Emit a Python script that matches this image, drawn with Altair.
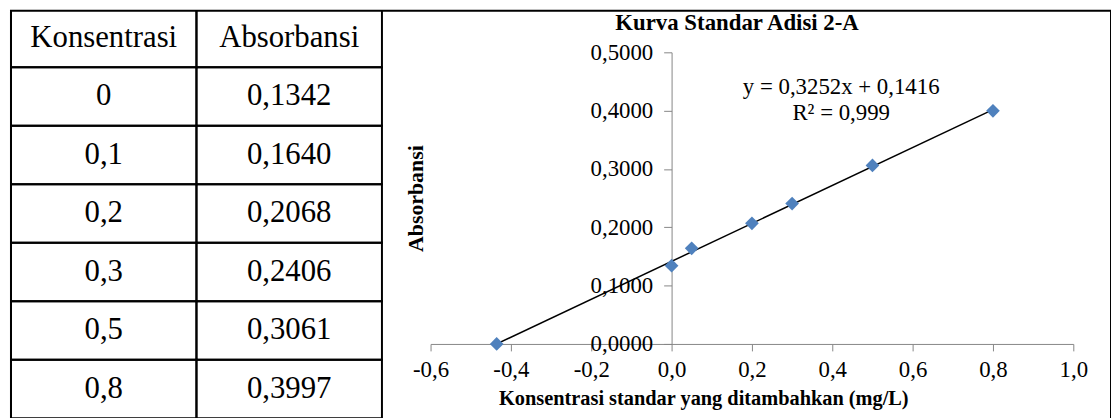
import altair as alt
import pandas as pd

SERIF = "Liberation Serif"

# ---------------- data ----------------
header = ["Konsentrasi", "Absorbansi"]
konsentrasi = [0, 0.1, 0.2, 0.3, 0.5, 0.8]
absorbansi = [0.1342, 0.1640, 0.2068, 0.2406, 0.3061, 0.3997]

plot_x = [-0.4354, 0.0, 0.05, 0.2, 0.3, 0.5, 0.8]
plot_y = [0.0, 0.1342, 0.1640, 0.2068, 0.2406, 0.3061, 0.3997]

x_ticks = [-0.6, -0.4, -0.2, 0.0, 0.2, 0.4, 0.6, 0.8, 1.0]
y_ticks = [0.0, 0.1, 0.2, 0.3, 0.4, 0.5]

chart_title = "Kurva Standar Adisi 2-A"
x_title = "Konsentrasi standar yang ditambahkan (mg/L)"
y_title = "Absorbansi"
equation = ["y = 0,3252x + 0,1416", "R\u00b2 = 0,999"]


def fmt_k(v):
    return ("%g" % v).replace(".", ",")


def fmt_a(v):
    return f"{v:.4f}".replace(".", ",")


rows = [{"row": 0, "col": h, "label": h} for h in header]
for i, (k, a) in enumerate(zip(konsentrasi, absorbansi), start=1):
    rows.append({"row": i, "col": header[0], "label": fmt_k(k)})
    rows.append({"row": i, "col": header[1], "label": fmt_a(a)})
table_df = pd.DataFrame(rows)

scatter_df = pd.DataFrame({"x": plot_x, "y": plot_y})

# ---------------- table ----------------
X_tab = alt.X("col:N", sort=header,
              scale=alt.Scale(range=[0, 374], paddingInner=0, paddingOuter=0),
              axis=None)
Y_tab = alt.Y("row:O",
              scale=alt.Scale(range=[-2, 411], paddingInner=0, paddingOuter=0),
              axis=None)

cells = alt.Chart(table_df).mark_rect(
    filled=False, color="black", strokeWidth=2, clip=True
).encode(x=X_tab, y=Y_tab)

cell_text = alt.Chart(table_df).mark_text(
    font=SERIF, fontSize=31, color="black", baseline="middle", align="center"
).encode(x=X_tab, y=Y_tab, text="label:N")

table_layer = alt.layer(cells, cell_text)

# ---------------- scatter chart ----------------
x_axis = alt.Axis(
    values=x_ticks,
    labelExpr="replace(replace(format(datum.value, '.1f'), '.', ','), '\u2212', '-')",
    offset=-76, grid=False,
    domainColor="#868686", tickColor="#868686", domainWidth=1, tickWidth=1,
    tickSize=7, labelPadding=8,
    labelFont=SERIF, labelFontSize=23, labelColor="black",
    labelFlush=False, labelOverlap=False,
    title=x_title, titleFont=SERIF, titleFontSize=20.5, titleFontWeight="bold",
    titleColor="black", titleX=698, titleY=55,
    titleBaseline="middle", titleAlign="center",
)
y_axis = alt.Axis(
    values=y_ticks,
    labelExpr="replace(format(datum.value, '.4f'), '.', ',')",
    offset=-666, grid=False,
    domainColor="#868686", tickColor="#868686", domainWidth=1, tickWidth=1,
    tickSize=8, labelPadding=11,
    labelFont=SERIF, labelFontSize=23, labelColor="black",
    labelFlush=False, labelOverlap=False,
    title=y_title, titleFont=SERIF, titleFontSize=22, titleFontWeight="bold",
    titleColor="black", titleX=-258, titleY=189, titleAngle=270,
    titleBaseline="middle", titleAlign="center",
)

X_sc = alt.X("x:Q", scale=alt.Scale(domain=[-0.6, 1.0], range=[423, 1071],
                                   nice=False, zero=False), axis=x_axis)
Y_sc = alt.Y("y:Q", scale=alt.Scale(domain=[0, 0.5], range=[336, 42],
                                   nice=False, zero=False), axis=y_axis)

trend = alt.Chart(scatter_df).transform_regression("x", "y").mark_line(
    color="black", strokeWidth=1.5
).encode(x=X_sc, y=Y_sc)

points = alt.Chart(scatter_df).mark_point(
    shape="diamond", filled=True, size=190, color="#4F81BD", opacity=1
).encode(x=X_sc, y=Y_sc)

title_text = alt.Chart(pd.DataFrame({"t": [chart_title]})).mark_text(
    font=SERIF, fontSize=23, fontWeight="bold", color="black",
    align="center", baseline="middle"
).encode(x=alt.value(732), y=alt.value(12), text="t:N")

eq_text = alt.Chart(pd.DataFrame({"a": [0]})).mark_text(
    text=equation, font=SERIF, fontSize=23, color="black",
    align="center", baseline="alphabetic", lineHeight=26
).encode(x=alt.value(837), y=alt.value(84))

scatter_layer = alt.layer(trend, points, title_text, eq_text)

chart = (
    alt.layer(table_layer, scatter_layer)
    .resolve_scale(x="independent", y="independent")
    .resolve_axis(x="independent", y="independent")
    .properties(
        width=1109, height=412,
        autosize=alt.AutoSizeParams(type="none"),
        padding={"left": 3, "top": 1, "right": 0, "bottom": 0},
        background="white",
    )
    .configure_view(stroke="black", strokeWidth=2)
)

chart.save("out.html", embed_options={"renderer": "svg", "actions": False})
